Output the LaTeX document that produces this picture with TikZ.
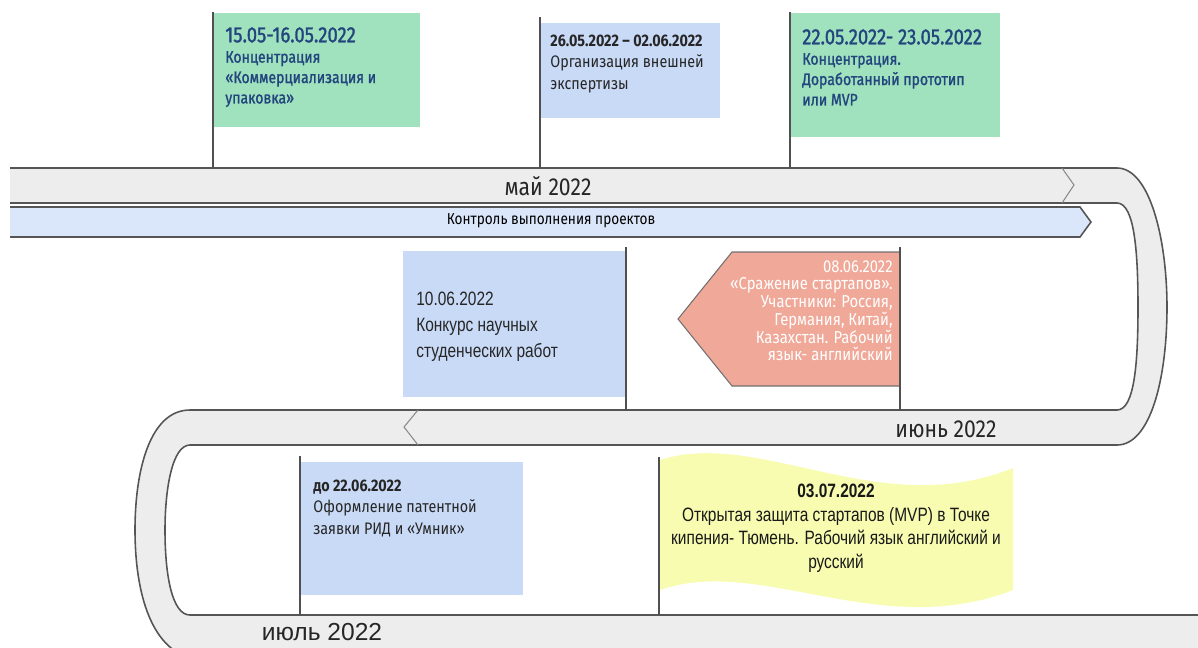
\documentclass[tikz,border=0pt]{standalone}
\usepackage{fontspec}
\setmainfont{Fira Sans}[FakeStretch=0.86]
\newfontfamily\semifont{Fira Sans}[FakeStretch=0.84, FakeBold=1.3]
\newfontfamily\narrowfont{Liberation Sans}[FakeStretch=0.8]
\newfontfamily\monthfont{Liberation Sans}

\definecolor{bandgray}{HTML}{EDEDED}
\definecolor{rimgray}{HTML}{555555}
\definecolor{polegray}{HTML}{505050}
\definecolor{chevgray}{HTML}{8A8A8A}
\definecolor{ctrlblue}{HTML}{DAE7FA}
\definecolor{boxgreen}{HTML}{A0E2BE}
\definecolor{boxblue}{HTML}{C9DAF7}
\definecolor{salmon}{HTML}{F0A898}
\definecolor{salmonedge}{HTML}{707070}
\definecolor{flagyellow}{HTML}{F7FCB0}
\definecolor{textblue}{HTML}{23457E}

\begin{document}
\begin{tikzpicture}[x = 0.02cm, y = -0.02cm,
    every node/.style = {inner sep = 0pt},
    rim/.style = {draw = rimgray, line width = 0.9pt},
    chev/.style = {draw = chevgray, line width = 0.6pt},
    pole/.style = {draw = polegray, line width = 1.1pt},
    greenbox/.style = {fill = boxgreen, anchor = north west},
    bluebox/.style = {fill = boxblue, anchor = north west},
    greentext/.style = {anchor = north west, align = left, text = textblue,
        font = \semifont\fontsize{9.5}{11.6}\selectfont},
    bluetext/.style = {anchor = north west, align = left, text = black!85,
        font = \fontsize{9.5}{12}\selectfont},
    monthlabel/.style = {font = \fontsize{14}{16}\selectfont, text = black!85}]
    \useasboundingbox (0,0) rectangle (1198,647);
    \clip (0,0) rectangle (1198,647);

    % timeline ribbon
    \fill[bandgray] (10,168) -- (1117,168)
        .. controls (1150,168) and (1167,240) .. (1167,307)
        .. controls (1167,380) and (1150,445) .. (1117,445) -- (190,445)
        .. controls (172,445) and (165,490) .. (165,530)
        .. controls (165,575) and (172,615) .. (190,615) -- (1198,615)
        -- (1198,660) -- (200,660)
        .. controls (150,655) and (135,590) .. (135,530)
        .. controls (135,470) and (150,410) .. (190,410) -- (1117,410)
        .. controls (1135,410) and (1138,360) .. (1138,307)
        .. controls (1138,255) and (1135,203) .. (1117,203) -- (10,203) -- cycle;
    \draw[rim] (10,168) -- (1117,168)
        .. controls (1150,168) and (1167,240) .. (1167,307)
        .. controls (1167,380) and (1150,445) .. (1117,445) -- (190,445)
        .. controls (172,445) and (165,490) .. (165,530)
        .. controls (165,575) and (172,615) .. (190,615) -- (1198,615);
    \draw[rim] (10,203) -- (1117,203)
        .. controls (1135,203) and (1138,255) .. (1138,307)
        .. controls (1138,360) and (1135,410) .. (1117,410) -- (190,410)
        .. controls (150,410) and (135,470) .. (135,530)
        .. controls (135,590) and (150,655) .. (200,660);
    \draw[chev] (1062,168) -- (1074,185) -- (1062,203);
    \draw[chev] (418,410) -- (404,427) -- (418,445);

    % control band
    \fill[ctrlblue] (10,207) -- (1080,207) -- (1091,222) -- (1080,237) -- (10,237) -- cycle;
    \draw[rim] (10,207) -- (1080,207) -- (1091,222) -- (1080,237) -- (10,237);

    \coordinate (maytop) at (0,168);
    \coordinate (junetop) at (0,410);
    \coordinate (julytop) at (0,615);

    \node[monthlabel] (may) at (548,186) {май 2022};
    \node[font = \fontsize{9}{11}\selectfont] (ctrl) at (551,221) {Контроль выполнения проектов};
    \node[monthlabel] (june) at (946,429) {июнь 2022};
    \node[monthlabel, font = \monthfont\fontsize{14}{16}\selectfont] (july) at (322,632) {июль 2022};

    % May
    \node[greenbox, minimum width = 4.14cm, minimum height = 2.28cm] (b1) at (213,13) {};
    \node[greentext] (t1) at (225,27) {{\fontsize{12.5}{14}\selectfont 15.05-16.05.2022}\\
        Концентрация\\«Коммерциализация и\\упаковка»};
    \draw[pole] ([yshift = 0.02cm]b1.north west) -- (b1.north west |- maytop);

    \node[bluebox, minimum width = 3.6cm, minimum height = 1.9cm] (b2) at (540,23) {};
    \node[bluetext] (t2) at (550,35) {\textbf{26.05.2022 – 02.06.2022}\\
        Организация внешней\\экспертизы};
    \draw[pole] ([yshift = 0.12cm]b2.north west) -- (b2.north west |- maytop);

    \node[greenbox, minimum width = 4.2cm, minimum height = 2.48cm] (b3) at (790,13) {};
    \node[greentext] (t3) at (802,29) {{\fontsize{12.5}{14}\selectfont 22.05.2022- 23.05.2022}\\
        Концентрация.\\Доработанный прототип\\или MVP};
    \draw[pole] ([yshift = 0.02cm]b3.north west) -- (b3.north west |- maytop);

    % June
    \node[bluebox, minimum width = 4.44cm, minimum height = 2.92cm] (b4) at (403,251) {};
    \node[anchor = north west, align = left, text = black!85,
        font = \narrowfont\fontsize{11}{14.7}\selectfont] (t4) at (416,292)
        {10.06.2022\\Конкурс научных\\студенческих работ};
    \draw[pole] ([yshift = 0.08cm]b4.north east) -- (b4.north east |- junetop);

    \fill[salmon] (900,252) -- (732,252) -- (678,319) -- (732,386) -- (900,386) -- cycle;
    \draw[salmonedge, line width = 0.6pt] (900,252) -- (732,252) -- (678,319) -- (732,386) -- (900,386);
    \coordinate (s1) at (900,247);
    \node[anchor = north east, align = right, text = white,
        font = \fontsize{9.8}{10.1}\selectfont] (t5) at (893,260)
        {08.06.2022\\«Сражение стартапов».\\Участники: Россия,\\Германия, Китай,\\Казахстан. Рабочий\\язык- английский};
    \draw[pole] (s1) -- (s1 |- junetop);

    % July
    \node[bluebox, minimum width = 4.46cm, minimum height = 2.66cm] (b6) at (300,462) {};
    \node[bluetext] (t6) at (313,480) {\textbf{до 22.06.2022}\\
        Оформление патентной\\заявки РИД и «Умник»};
    \draw[pole] ([yshift = 0.12cm]b6.north west) -- (b6.north west |- julytop);

    \fill[flagyellow] (660,460) .. controls (760,428) and (880,522) .. (1013,468)
        -- (1013,590) .. controls (880,642) and (760,555) .. (660,590) -- cycle;
    \coordinate (s2) at (659,457);
    \node[anchor = north, align = center, text = black!90,
        font = \narrowfont\fontsize{11}{13.4}\selectfont] (t7) at (836,484)
        {\textbf{03.07.2022}\\Открытая защита стартапов (MVP) в Точке\\
        кипения- Тюмень. Рабочий язык английский и\\русский};
    \draw[pole] (s2) -- (s2 |- julytop);
\end{tikzpicture}
\end{document}
